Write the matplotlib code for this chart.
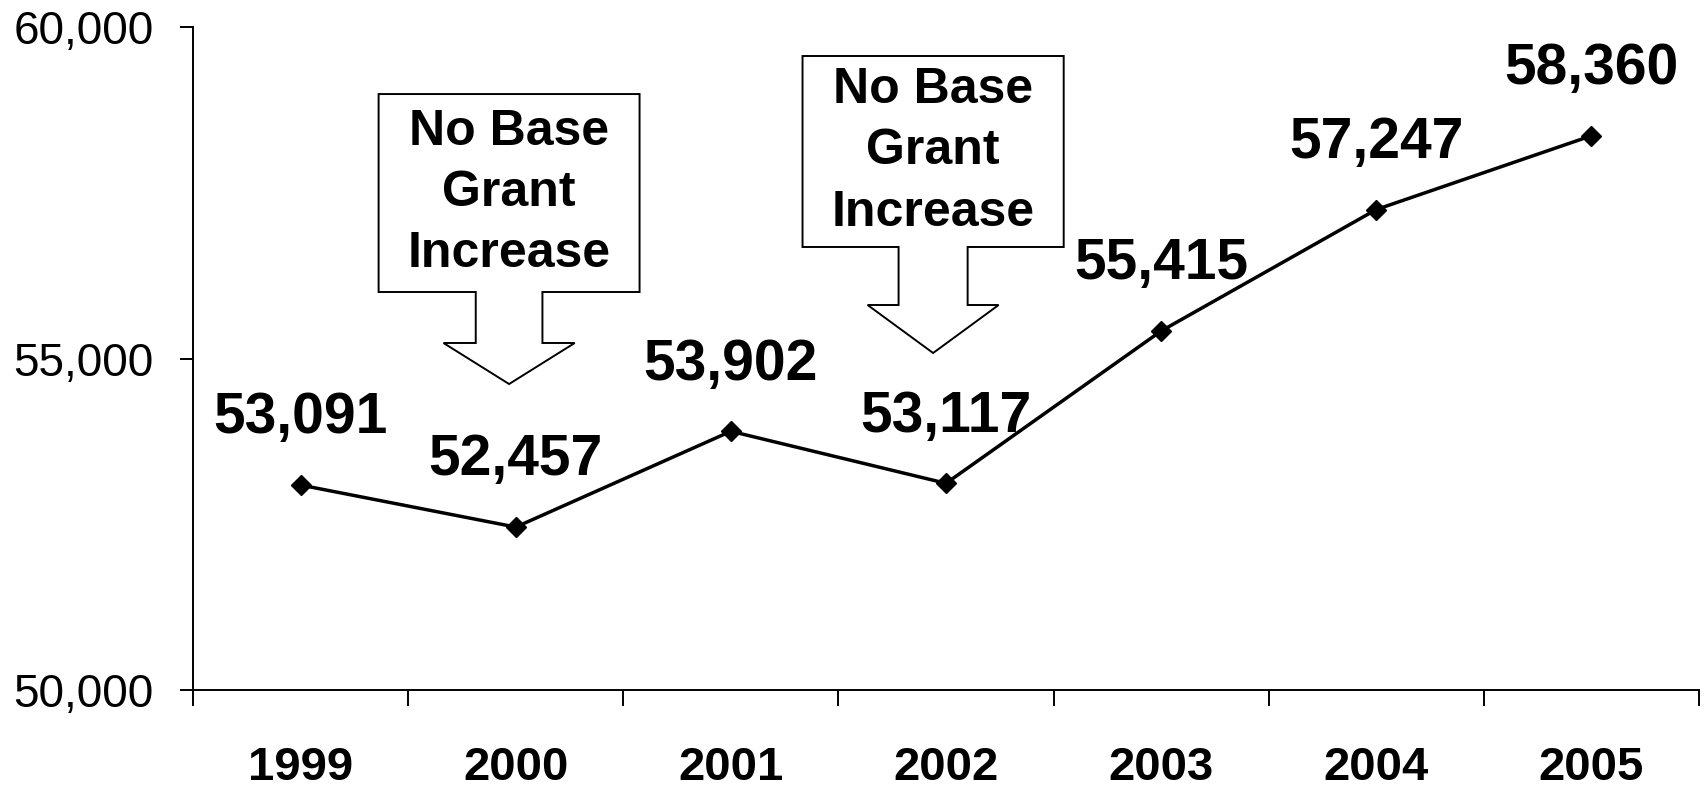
import matplotlib
matplotlib.use("Agg")
import matplotlib.pyplot as plt
from matplotlib.patches import Polygon
from matplotlib.ticker import FuncFormatter, FixedLocator

plt.rcParams['font.family'] = ['Liberation Sans', 'DejaVu Sans']

years = ['1999', '2000', '2001', '2002', '2003', '2004', '2005']
enrollment = [53091, 52457, 53902, 53117, 55415, 57247, 58360]
y_ticks = [50000, 55000, 60000]
callout_text = 'No Base\nGrant\nIncrease'

fig = plt.figure(figsize=(17.07, 7.88), dpi=100)
ax = fig.add_axes([0.1131, 0.1244, 0.8822, 0.8413])

x = list(range(len(years)))
ax.plot(x, enrollment, color='black', lw=2.5, marker='D', ms=10.5,
        mfc='black', mec='black', zorder=3)

for xi, v in zip(x, enrollment):
    ax.annotate(f'{v:,}', (xi, v), xytext=(0, 48), textcoords='offset points',
                ha='center', va='center', fontsize=41, fontweight='bold',
                zorder=4)


def callout(ax, cx, top, bottom, shaft_bottom, tip,
            box_w=1.213, shaft_w=0.31, head_w=0.61, text=callout_text):
    bl, br = cx - box_w / 2, cx + box_w / 2
    sl, sr = cx - shaft_w / 2, cx + shaft_w / 2
    hl, hr = cx - head_w / 2, cx + head_w / 2
    pts = [(bl, top), (br, top), (br, bottom), (sr, bottom), (sr, shaft_bottom),
           (hr, shaft_bottom), (cx, tip), (hl, shaft_bottom), (sl, shaft_bottom),
           (sl, bottom), (bl, bottom)]
    ax.add_patch(Polygon(pts, closed=True, facecolor='white', edgecolor='black',
                         lw=1.4, zorder=5, joinstyle='miter'))
    ax.text(cx, (top + bottom) / 2, text, ha='center', va='center',
            fontsize=36, fontweight='bold', linespacing=1.42, zorder=6)


callout(ax, 0.969, 58989, 56003, 55234, 54615)
callout(ax, 2.940, 59563, 56682, 55807, 55083, box_w=1.214, shaft_w=0.321, head_w=0.609)

ax.set_xlim(-0.5, len(years) - 0.5)
ax.set_ylim(50000, 60000)

ax.xaxis.set_major_locator(FixedLocator([i - 0.5 for i in range(len(years) + 1)]))
ax.xaxis.set_minor_locator(FixedLocator(x))
ax.set_xticklabels([], minor=False)
ax.set_xticklabels(years, minor=True, fontsize=34, fontweight='bold')
ax.tick_params(axis='x', which='major', direction='out', length=11.5, width=1.4)
ax.tick_params(axis='x', which='minor', length=0, pad=40)

ax.set_yticks(y_ticks)
ax.yaxis.set_major_formatter(FuncFormatter(lambda v, p: f'{int(v):,}'))
ax.tick_params(axis='y', direction='out', length=9.4, width=1.4, pad=19,
               labelsize=33)

for side in ('top', 'right'):
    ax.spines[side].set_visible(False)
for side in ('left', 'bottom'):
    ax.spines[side].set_linewidth(1.4)

fig.savefig('out.png', dpi=100)
